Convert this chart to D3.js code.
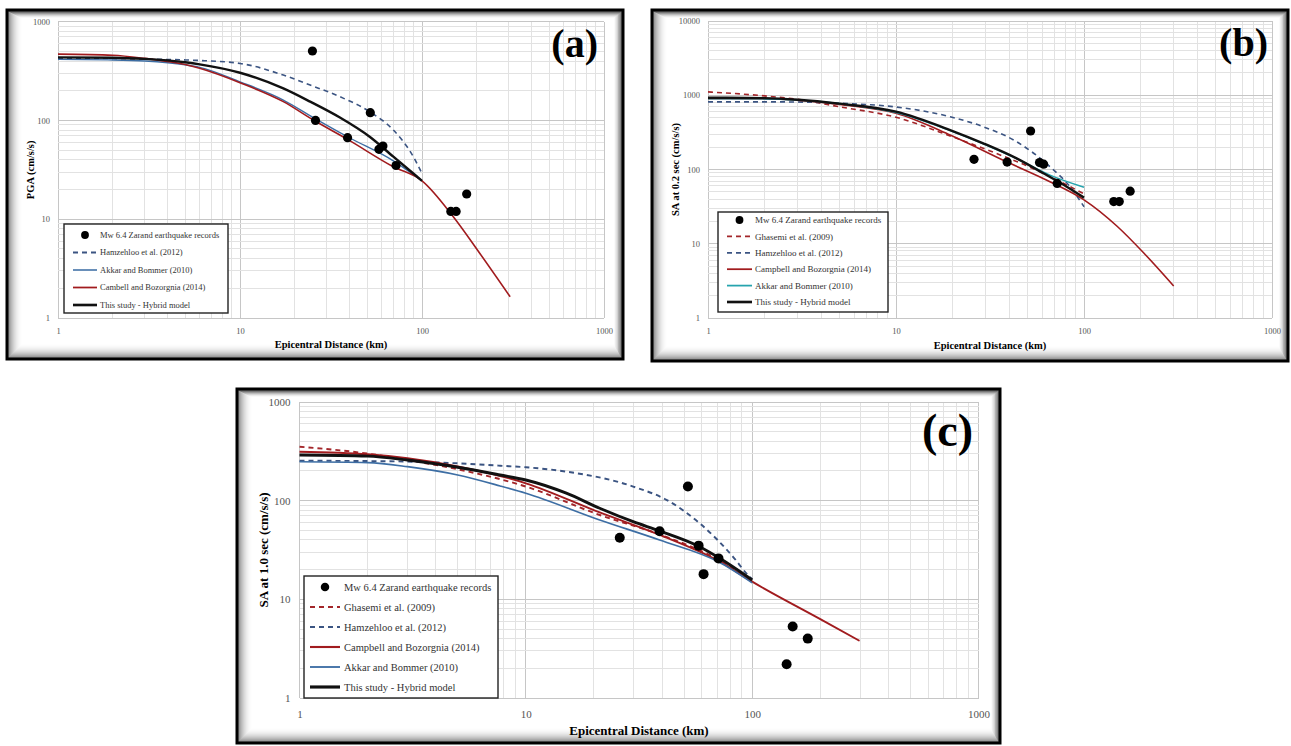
<!DOCTYPE html>
<html>
<head>
<meta charset="utf-8">
<script src="https://cdn.jsdelivr.net/npm/d3@7"></script>
<style>
  body { margin: 0; background: #fff; }
  svg { display: block; }
</style>
</head>
<body>
<svg id="chart" width="1291" height="746"></svg>
<script>
// ---- shared ----
const xTickValues = [1, 10, 100, 1000];
const serif = "'Times New Roman', 'Liberation Serif', serif";

// ---- panel (a) : PGA ----
const recDistA = [25, 26, 39, 52, 58, 61, 72, 144, 154, 176];
const recPgaA  = [505, 100, 67, 120, 51, 55, 35, 12, 12, 18];
const hamDistA = [1, 2, 3, 5, 6, 10, 17.3, 24.3, 35.4, 51.8, 69.6, 89.6, 100];
const hamPgaA  = [425, 423, 418, 410, 405, 378, 288, 228, 174, 122, 80, 43, 29];
const akkDistA = [1, 2, 3, 5, 6, 10, 17.3, 25.3, 39.2, 69.6, 100];
const akkPgaA  = [415, 410, 400, 366, 345, 246, 161, 107, 68, 39, 24.5];
const campDistA = [1, 2, 3, 5, 6, 10, 17.3, 25.3, 39.2, 69.6, 100, 148.6, 208, 305];
const campPgaA  = [470, 458, 425, 368, 337, 241, 155, 101, 64, 34, 24.5, 10.6, 4.5, 1.64];
const hybDistA = [1, 2, 3, 5, 6, 10, 17.3, 24.3, 35.4, 51.8, 69.6, 100];
const hybPgaA  = [435, 432, 420, 388, 370, 304, 211, 155, 107, 68, 43, 24.5];

// ---- panel (b) : SA 0.2 s ----
const recDistB = [26, 39, 52, 58, 61, 72, 144, 154, 176];
const recSaB   = [137, 126, 330, 124, 118, 65, 37, 37, 51];
const ghaDistB = [1, 2, 3, 5, 10, 20, 30, 56, 100];
const ghaSaB   = [1110, 980, 880, 700, 505, 275, 187, 98, 47];
const hamDistB = [1, 2, 3, 5, 10, 19.4, 29.1, 43.8, 65.9, 84.3, 100];
const hamSaB   = [815, 815, 810, 780, 695, 514, 377, 237, 109, 58.6, 31.5];
const campDistB = [1, 2, 3, 5, 10, 19.4, 38.8, 65.9, 100, 150, 208, 300];
const campSaB   = [900, 895, 860, 750, 571, 292, 127, 68.5, 39, 17.2, 7.5, 2.7];
const akkDistB = [1, 2, 3, 5, 10, 19.4, 29.1, 43.8, 65.9, 100];
const akkSaB   = [900, 895, 862, 772, 585, 335, 222, 140, 84, 57.6];
const hybDistB = [1, 2, 3, 5, 10, 19.4, 29.1, 43.8, 60.8, 81, 100];
const hybSaB   = [927, 915, 870, 770, 601, 340, 225, 141, 89, 58.6, 41.8];

// ---- panel (c) : SA 1.0 s ----
const recDistC = [26, 39, 52, 58, 61, 71, 142, 151, 176];
const recSaC   = [42, 49, 139, 35, 18, 26, 2.2, 5.3, 4.0];
const ghaDistC = [1, 2, 3, 5, 10, 21.2, 39, 67.1, 100];
const ghaSaC   = [352, 300, 258, 208, 139, 71.6, 45.5, 27, 15.5];
const hamDistC = [1, 2, 3, 5, 7.7, 10, 15.1, 29.8, 41.8, 58.6, 82.3, 95.8, 100];
const hamSaC   = [254, 252, 249, 239, 226, 218, 197, 139, 102, 59, 27, 17.6, 16];
const campDistC = [1, 2, 3, 5, 10, 21.2, 39, 71, 100, 200, 298];
const campSaC   = [313, 295, 269, 222, 150, 76, 45, 24.5, 15.1, 6.3, 3.8];
const akkDistC = [1, 2, 3, 5, 7.7, 10, 21.2, 39, 71, 100];
const akkSaC   = [248, 243, 221, 182, 141, 119, 63.7, 39.9, 24, 14.7];
const hybDistC = [1, 2, 3, 5, 7.7, 10, 15.1, 21.2, 29.8, 39, 58, 71, 100];
const hybSaC   = [290, 283, 258, 218, 182, 162, 119, 83.7, 61.2, 49.3, 34.5, 26.5, 15.7];

// line styles
const stHam  = {stroke: "#3b5482", width: 1.6, dash: "5,4"};
const stGha  = {stroke: "#a3262a", width: 1.6, dash: "5,4"};
const stCamp = {stroke: "#a11b1e", width: 1.6};
const stAkk  = {stroke: "#3d6ea4", width: 1.4};
const stCyan = {stroke: "#26a4ae", width: 1.6};
const stHyb  = {stroke: "#111", width: 2.4};

const svg = d3.select("#chart");

function drawFrame(b) {
  const g = svg.append("g");
  g.append("rect")
    .attr("x", b.x0).attr("y", b.y0)
    .attr("width", b.x1 - b.x0).attr("height", b.y1 - b.y0)
    .attr("fill", "#fff");
  // soft inner shadow, heavier on left and bottom
  for (let i = 14; i >= 0; i--) {
    g.append("rect")
      .attr("x", b.x0 + 1.5 + i).attr("y", b.y0 + 1.5 + i * 0.5)
      .attr("width", b.x1 - b.x0 - 3 - i * 1.6).attr("height", b.y1 - b.y0 - 3 - i * 1.5)
      .attr("fill", "none")
      .attr("stroke", "#000")
      .attr("stroke-opacity", 0.45 * Math.pow(1 - i / 15, 2.2));
  }
  g.append("rect")
    .attr("x", b.x0).attr("y", b.y0)
    .attr("width", b.x1 - b.x0).attr("height", b.y1 - b.y0)
    .attr("fill", "none")
    .attr("stroke", "#000")
    .attr("stroke-width", 3);
}

function drawPanel(p) {
  drawFrame(p.frame);

  const x = d3.scaleLog().domain([1, 1000]).range([p.left, p.right]);
  const y = d3.scaleLog().domain([1, p.yMax]).range([p.bottom, p.top]);
  const g = svg.append("g");

  const isMajor = v => Math.abs(Math.log10(v) - Math.round(Math.log10(v))) < 1e-9;

  // grid
  const grid = g.append("g").attr("shape-rendering", "crispEdges");
  grid.selectAll(".gx").data(x.ticks()).join("line")
    .attr("x1", d => x(d)).attr("x2", d => x(d))
    .attr("y1", p.top).attr("y2", p.bottom)
    .attr("stroke", d => isMajor(d) ? "#c6c6c6" : "#e2e2e2");
  grid.selectAll(".gy").data(y.ticks()).join("line")
    .attr("y1", d => y(d)).attr("y2", d => y(d))
    .attr("x1", p.left).attr("x2", p.right)
    .attr("stroke", d => isMajor(d) ? "#c6c6c6" : "#e2e2e2");

  // axes (labels only)
  const yTicks = y.ticks().filter(isMajor);
  g.append("g")
    .attr("transform", `translate(${p.left},0)`)
    .call(d3.axisLeft(y).tickValues(yTicks).tickFormat(d3.format("d")).tickSize(0).tickPadding(p.tickPad))
    .call(a => a.select(".domain").remove())
    .call(a => a.selectAll("text").attr("font-family", serif).attr("font-size", p.tickFont).attr("fill", "#555"));
  g.append("g")
    .attr("transform", `translate(0,${p.bottom})`)
    .call(d3.axisBottom(x).tickValues(xTickValues).tickFormat(d3.format("d")).tickSize(0).tickPadding(p.xTickPad))
    .call(a => a.select(".domain").remove())
    .call(a => a.selectAll("text").attr("font-family", serif).attr("font-size", p.tickFont).attr("fill", "#555"));

  // axis titles
  g.append("text")
    .attr("x", (p.left + p.right) / 2).attr("y", p.bottom + p.xTitleDy)
    .attr("text-anchor", "middle")
    .attr("font-family", serif).attr("font-weight", "bold").attr("font-size", p.titleFont)
    .text("Epicentral Distance (km)");
  g.append("text")
    .attr("transform", `translate(${p.left - p.yTitleDx},${(p.top + p.bottom) / 2}) rotate(-90)`)
    .attr("text-anchor", "middle")
    .attr("dy", "0.35em")
    .attr("font-family", serif).attr("font-weight", "bold").attr("font-size", p.titleFont)
    .text(p.yTitle);

  // curves
  const line = d3.line()
    .x(d => x(d[0]))
    .y(d => y(d[1]))
    .curve(d3.curveMonotoneX);
  p.series.forEach(s => {
    g.append("path")
      .datum(d3.zip(s.dist, s.vals))
      .attr("fill", "none")
      .attr("stroke", s.style.stroke)
      .attr("stroke-width", s.style.width * p.lineScale)
      .attr("stroke-dasharray", s.style.dash || null)
      .attr("d", line);
  });

  // records
  g.append("g").selectAll("circle")
    .data(d3.zip(p.recDist, p.recVals))
    .join("circle")
    .attr("cx", d => x(d[0])).attr("cy", d => y(d[1]))
    .attr("r", p.dotR)
    .attr("fill", "#000");

  // legend
  const L = p.legend;
  const lg = g.append("g");
  lg.append("rect")
    .attr("x", L.x0).attr("y", L.y0)
    .attr("width", L.x1 - L.x0).attr("height", L.y1 - L.y0)
    .attr("fill", "#fff").attr("stroke", "#222").attr("stroke-width", 1.4);
  L.items.forEach((it, i) => {
    const yy = L.firstRow + i * L.step;
    if (it.style === null) {
      lg.append("circle")
        .attr("cx", (L.symX0 + L.symX1) / 2).attr("cy", yy)
        .attr("r", p.dotR * 0.85).attr("fill", "#000");
    } else {
      lg.append("line")
        .attr("x1", L.symX0).attr("x2", L.symX1)
        .attr("y1", yy).attr("y2", yy)
        .attr("stroke", it.style.stroke)
        .attr("stroke-width", it.style.width * p.lineScale * 1.1)
        .attr("stroke-dasharray", it.style.dash || null);
    }
    lg.append("text")
      .attr("x", L.textX).attr("y", yy)
      .attr("dy", "0.35em")
      .attr("font-family", serif).attr("font-size", L.font).attr("fill", "#333")
      .text(it.label);
  });

  // panel tag
  g.append("text")
    .attr("x", p.tag.x).attr("y", p.tag.y)
    .attr("text-anchor", "end")
    .attr("font-family", serif).attr("font-weight", "bold").attr("font-size", p.tag.size)
    .text(p.tag.text);
}

drawPanel({
  frame: {x0: 7, y0: 10, x1: 623, y1: 359},
  left: 58, right: 604, top: 21.7, bottom: 318, yMax: 1000,
  tickFont: 8.5, tickPad: 8, xTickPad: 10,
  titleFont: 10.5, xTitleDy: 30, yTitleDx: 28,
  yTitle: "PGA (cm/s/s)",
  lineScale: 1, dotR: 4.6,
  recDist: recDistA, recVals: recPgaA,
  series: [
    {dist: hamDistA, vals: hamPgaA, style: stHam},
    {dist: akkDistA, vals: akkPgaA, style: stAkk},
    {dist: campDistA, vals: campPgaA, style: stCamp},
    {dist: hybDistA, vals: hybPgaA, style: stHyb}
  ],
  legend: {
    x0: 64, y0: 224, x1: 228, y1: 313, firstRow: 235, step: 17.5,
    symX0: 73, symX1: 97, textX: 100, font: 8.5,
    items: [
      {label: "Mw 6.4 Zarand earthquake records", style: null},
      {label: "Hamzehloo et al. (2012)", style: stHam},
      {label: "Akkar and Bommer (2010)", style: stAkk},
      {label: "Cambell and Bozorgnia (2014)", style: stCamp},
      {label: "This study - Hybrid model", style: stHyb}
    ]
  },
  tag: {text: "(a)", x: 598, y: 57, size: 40}
});

drawPanel({
  frame: {x0: 652, y0: 10, x1: 1288, y1: 361},
  left: 708, right: 1272, top: 21, bottom: 318, yMax: 10000,
  tickFont: 8.5, tickPad: 8, xTickPad: 10,
  titleFont: 10.5, xTitleDy: 31, yTitleDx: 33,
  yTitle: "SA at 0.2 sec (cm/s/s)",
  lineScale: 1, dotR: 4.6,
  recDist: recDistB, recVals: recSaB,
  series: [
    {dist: ghaDistB, vals: ghaSaB, style: stGha},
    {dist: hamDistB, vals: hamSaB, style: stHam},
    {dist: campDistB, vals: campSaB, style: stCamp},
    {dist: akkDistB, vals: akkSaB, style: stCyan},
    {dist: hybDistB, vals: hybSaB, style: stHyb}
  ],
  legend: {
    x0: 718, y0: 212, x1: 888, y1: 312, firstRow: 220, step: 16.4,
    symX0: 727, symX1: 752, textX: 755, font: 9,
    items: [
      {label: "Mw 6.4 Zarand earthquake records", style: null},
      {label: "Ghasemi et al. (2009)", style: stGha},
      {label: "Hamzehloo et al. (2012)", style: stHam},
      {label: "Campbell and Bozorgnia (2014)", style: stCamp},
      {label: "Akkar and Bommer (2010)", style: stCyan},
      {label: "This study - Hybrid model", style: stHyb}
    ]
  },
  tag: {text: "(b)", x: 1268, y: 56, size: 40}
});

drawPanel({
  frame: {x0: 237, y0: 389, x1: 1000, y1: 743},
  left: 299.5, right: 978.5, top: 402, bottom: 698, yMax: 1000,
  tickFont: 11, tickPad: 9, xTickPad: 12,
  titleFont: 13, xTitleDy: 37, yTitleDx: 36,
  yTitle: "SA at 1.0 sec (cm/s/s)",
  lineScale: 1.2, dotR: 5,
  recDist: recDistC, recVals: recSaC,
  series: [
    {dist: ghaDistC, vals: ghaSaC, style: stGha},
    {dist: hamDistC, vals: hamSaC, style: stHam},
    {dist: campDistC, vals: campSaC, style: stCamp},
    {dist: akkDistC, vals: akkSaC, style: stAkk},
    {dist: hybDistC, vals: hybSaC, style: stHyb}
  ],
  legend: {
    x0: 304, y0: 576, x1: 498, y1: 698, firstRow: 587, step: 20,
    symX0: 310, symX1: 340, textX: 344, font: 10.5,
    items: [
      {label: "Mw 6.4 Zarand earthquake records", style: null},
      {label: "Ghasemi et al. (2009)", style: stGha},
      {label: "Hamzehloo et al. (2012)", style: stHam},
      {label: "Campbell and Bozorgnia (2014)", style: stCamp},
      {label: "Akkar and Bommer (2010)", style: stAkk},
      {label: "This study - Hybrid model", style: stHyb}
    ]
  },
  tag: {text: "(c)", x: 973, y: 446, size: 46}
});
</script>
</body>
</html>
